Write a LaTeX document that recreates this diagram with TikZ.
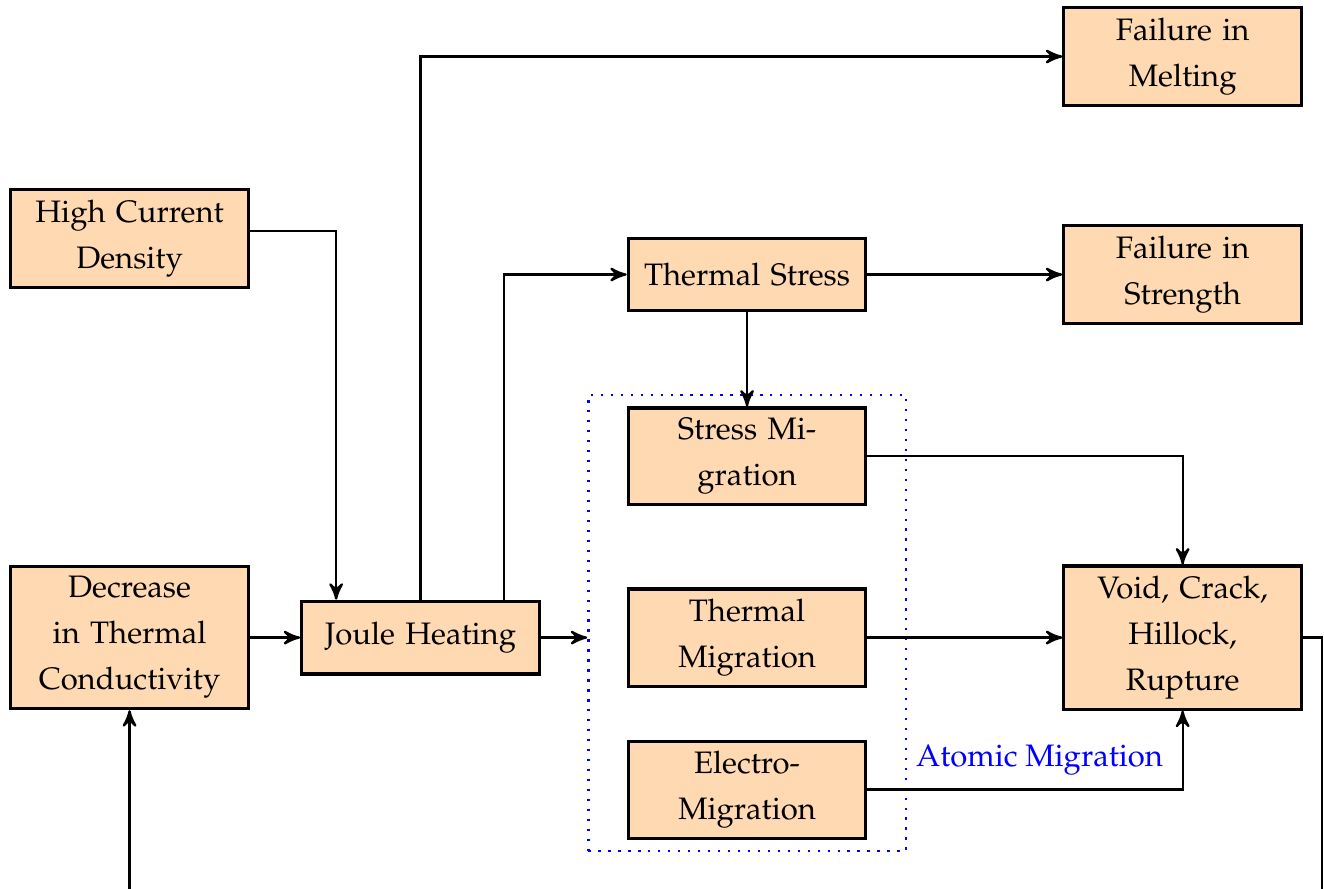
\documentclass[tikz,border=0pt]{standalone}
\usepackage[T1]{fontenc}
\usepackage{mathpazo}
\usepackage{tikz}
\usetikzlibrary{calc,shapes,positioning,fit}
\usetikzlibrary{arrows}

\begin{document}
\begin{tikzpicture}[>=stealth', font=\fontsize{8.1}{12}\selectfont]
    \tikzstyle{bnode} = [thick, draw, rectangle, fill=orange!30, text width=55pt, align=center, minimum height=19pt, inner xsep=3.5pt, inner ysep=2.6pt]
    \tikzstyle{conn} = [semithick, ->]

    \useasboundingbox (0,0) rectangle (12.14,-8.143);

    \node[bnode] (fm) at (10.844,-0.518) {Failure in Melting};
    \node[bnode] (hcd) at (1.188,-2.187) {High Current Density};
    \node[bnode] (ts) at (6.850,-2.517) {Thermal Stress};
    \node[bnode] (fs) at (10.844,-2.517) {Failure in Strength};

    \node[bnode] (sm) at (6.850,-4.182) {Stress Migration};
    \node[bnode] (dtc) at (1.188,-5.846) {Decrease in Thermal Conductivity};
    \node[bnode] (jh) at (3.856,-5.846) {Joule Heating};
    \node[bnode] (tm) at (6.850,-5.846) {Thermal Migration};
    \node[bnode] (vc) at (10.844,-5.846) {Void, Crack, Hillock, Rupture};
    \node[bnode] (em) at (6.850,-7.240) {Electro-Migration};

    % atomic migration group
    \node[draw=blue, dotted, semithick, inner xsep=10pt, inner ysep=3pt, fit=(sm)(tm)(em)] (amig) {};
    \coordinate (loop) at (12.123,-8.6);

    \draw[conn] ([yshift=2pt]hcd.east) -| ([xshift=0.33cm]jh.north west);
    \draw[conn] (jh.north) |- (fm.west);
    \draw[conn] ([xshift=0.766cm]jh.north) |- (ts.west);
    \draw[conn] (dtc) -- (jh);
    \draw[conn] (jh.east) -- (jh.east -| amig.west);

    \draw[conn] (ts) -- (fs);
    \draw[conn] (ts) -- (sm);

    \draw[conn] (sm.east) -| (vc.north);
    \draw[conn] (tm) -- (vc);
    \draw[conn] (em.east) -| node[pos=0.273, above, text=blue] (amlabel) {Atomic Migration} (vc.south);

    \draw[conn] (vc.east) -| (loop) -| (dtc.south);
  \end{tikzpicture}
\end{document}
